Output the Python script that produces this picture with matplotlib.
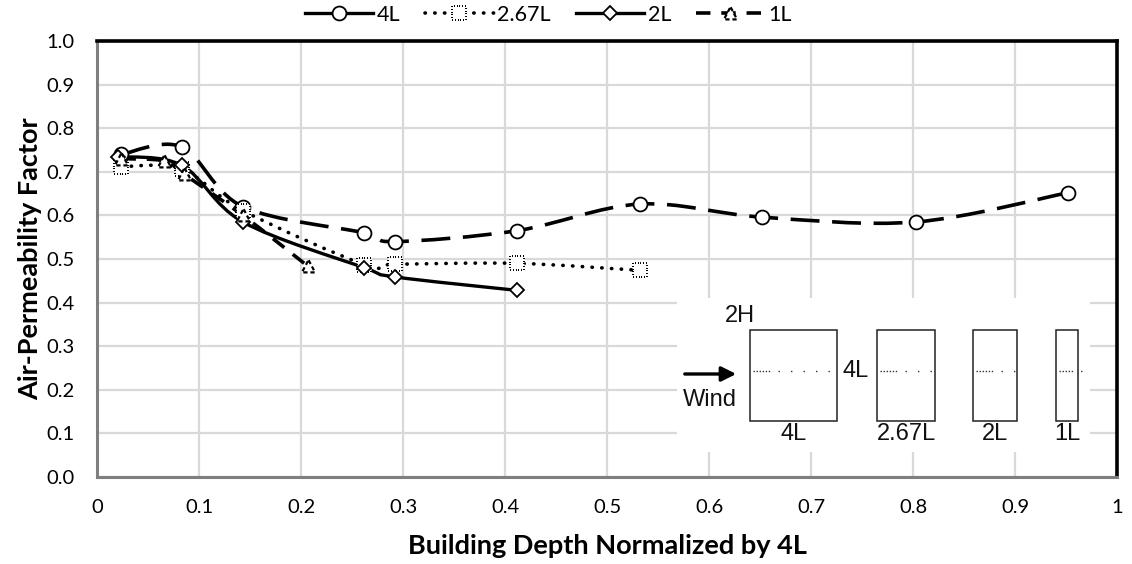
import numpy as np
import matplotlib
matplotlib.use("Agg")
import matplotlib.pyplot as plt
from matplotlib.path import Path
from matplotlib.patches import PathPatch, Rectangle
from matplotlib.markers import MarkerStyle
from matplotlib.lines import Line2D

plt.rcParams['font.family'] = ['Lato', 'DejaVu Sans']

# values
x_4L = [0.024, 0.083, 0.143, 0.262, 0.292, 0.412, 0.532, 0.652, 0.803, 0.952]
y_4L = [0.740, 0.757, 0.620, 0.560, 0.540, 0.565, 0.626, 0.596, 0.585, 0.652]
x_267L = [0.024, 0.083, 0.143, 0.262, 0.292, 0.412, 0.532]
y_267L = [0.712, 0.706, 0.611, 0.487, 0.488, 0.490, 0.474]
x_2L = [0.021, 0.083, 0.143, 0.262, 0.292, 0.412]
y_2L = [0.735, 0.715, 0.585, 0.480, 0.459, 0.428]
x_1L = [0.024, 0.066, 0.085, 0.143, 0.207]
y_1L = [0.730, 0.725, 0.695, 0.600, 0.483]

series_names = ['4L', '2.67L', '2L', '1L']
depths = [4, 2.67, 2, 1]
x_ticks = [0, 0.1, 0.2, 0.3, 0.4, 0.5, 0.6, 0.7, 0.8, 0.9, 1.0]
x_tick_labels = ['0', '0.1', '0.2', '0.3', '0.4', '0.5', '0.6', '0.7', '0.8', '0.9', '1']
y_ticks = [0, 0.1, 0.2, 0.3, 0.4, 0.5, 0.6, 0.7, 0.8, 0.9, 1.0]
y_tick_labels = ['0.0', '0.1', '0.2', '0.3', '0.4', '0.5', '0.6', '0.7', '0.8', '0.9', '1.0']


def smooth_path(x, y):
    # excel-style smoothed line as cubic bezier segments
    p = np.column_stack([x, y]).astype(float)
    n = len(p)
    verts = [p[0]]
    codes = [Path.MOVETO]
    for i in range(n - 1):
        p0 = p[i - 1] if i > 0 else p[i]
        p3 = p[i + 2] if i + 2 < n else p[i + 1]
        verts += [p[i] + (p[i + 1] - p0) / 6, p[i + 1] - (p3 - p[i]) / 6, p[i + 1]]
        codes += [Path.CURVE4] * 3
    return Path(verts, codes)


def broken_outline(corners, on, off, start=0.0):
    # polygon outline cut into dashes, used as a marker shape
    pts = np.array(corners + corners[:1], dtype=float)
    seglens = np.hypot(*np.diff(pts, axis=0).T)
    cum = np.concatenate([[0], np.cumsum(seglens)])
    total = cum[-1]

    def at(s):
        k = min(np.searchsorted(cum, s, side='right') - 1, len(seglens) - 1)
        t = (s - cum[k]) / seglens[k]
        return pts[k] + t * (pts[k + 1] - pts[k])

    verts, codes = [], []
    s = start
    while s < total:
        e = min(s + on, total)
        verts.append(at(s))
        codes.append(Path.MOVETO)
        for c in cum:
            if s < c < e:
                verts.append(at(c))
                codes.append(Path.LINETO)
        verts.append(at(e))
        codes.append(Path.LINETO)
        s += on + off
    return Path(verts, codes)


dot_square = MarkerStyle(broken_outline([(-0.5, -0.5), (0.5, -0.5), (0.5, 0.5), (-0.5, 0.5)], 0.07, 0.13))
dash_tri = MarkerStyle(broken_outline([(0, 0.5), (-0.5, -0.45), (0.5, -0.45)], 0.32, 0.22, 0.1))

fig = plt.figure(figsize=(11.32, 5.64), dpi=100)
ax = fig.add_axes([97 / 1132, 87 / 564, 1020 / 1132, 436 / 564])

# lines
ax.add_patch(PathPatch(smooth_path(x_4L, y_4L), fill=False, lw=2.6, color='black',
                       linestyle=(0, (8, 3.5)), capstyle='butt', zorder=3))
p = PathPatch(smooth_path(x_267L, y_267L), fill=False, lw=2.6, color='black',
              linestyle=(0, (0.1, 2.6)), zorder=3)
p.set_capstyle('round')
ax.add_patch(p)
ax.add_patch(PathPatch(smooth_path(x_2L, y_2L), fill=False, lw=2.4, color='black', zorder=3))
ax.add_patch(PathPatch(smooth_path(x_1L, y_1L), fill=False, lw=2.6, color='black',
                       linestyle=(0, (4, 3)), capstyle='butt', zorder=3))

# markers
ax.plot(x_4L, y_4L, ls='none', marker='o', ms=10, mfc='white', mec='black', mew=1.3, zorder=4)
ax.plot(x_267L, y_267L, ls='none', marker='s', ms=9.5, mfc='white', mec='none', zorder=4)
ax.plot(x_267L, y_267L, ls='none', marker=dot_square, ms=9.5, mfc='none', mec='black', mew=1.4, zorder=4)
ax.plot(x_2L, y_2L, ls='none', marker='D', ms=6.8, mfc='white', mec='black', mew=1.3, zorder=5)
ax.plot(x_1L, y_1L, ls='none', marker='^', ms=8.5, mfc='white', mec='none', zorder=5)
ax.plot(x_1L, y_1L, ls='none', marker=dash_tri, ms=9, mfc='none', mec='black', mew=1.6, zorder=5)

ax.set_xlim(0, 1)
ax.set_ylim(0, 1)
ax.set_xticks(x_ticks)
ax.set_xticklabels(x_tick_labels)
ax.set_yticks(y_ticks)
ax.set_yticklabels(y_tick_labels)
ax.tick_params(length=0, pad=16, labelsize=14.5)
ax.grid(True, color='#d9d9d9', lw=1.6)
ax.set_axisbelow(True)
for side in ['top', 'right']:
    ax.spines[side].set_color('black')
    ax.spines[side].set_linewidth(2.6)
for side in ['left', 'bottom']:
    ax.spines[side].set_color('#7f7f7f')
    ax.spines[side].set_linewidth(2.2)
ax.set_xlabel('Building Depth Normalized by 4L', fontsize=19.5, fontweight='bold', labelpad=13)
ax.set_ylabel('Air-Permeability Factor', fontsize=19.5, fontweight='bold', labelpad=3)

# legend
h_4L = Line2D([], [], color='black', lw=2.4, marker='o', ms=10, mfc='white', mec='black', mew=1.3)
h_267L = (Line2D([], [], color='black', lw=2.6, ls=(0, (0.1, 2.6)), dash_capstyle='round',
                 marker='s', ms=9.5, mfc='white', mec='none'),
          Line2D([], [], ls='none', marker=dot_square, ms=9.5, mfc='none', mec='black', mew=1.4))
h_2L = Line2D([], [], color='black', lw=2.4, marker='D', ms=6.8, mfc='white', mec='black', mew=1.3)
h_1L = (Line2D([], [], color='black', lw=2.6, ls=(0, (4, 3)), marker='^', ms=8.5, mfc='white', mec='none'),
        Line2D([], [], ls='none', marker=dash_tri, ms=9, mfc='none', mec='black', mew=1.6))
fig.legend([h_4L, h_267L, h_2L, h_1L], series_names, loc='center',
           bbox_to_anchor=(548 / 1132, 1 - 15 / 564), ncol=4, frameon=False,
           fontsize=15.5, handlelength=3.2, handletextpad=0.15, columnspacing=1.15)

# inset sketch of the building cases
ins = fig.add_axes([677 / 1132, (564 - 452) / 564, 413 / 1132, 154 / 564])
ins.set_xlim(677, 1090)
ins.set_ylim(452, 298)
ins.set_facecolor('white')
ins.set_xticks([])
ins.set_yticks([])
for s in ins.spines.values():
    s.set_visible(False)

px_per_L = 21.75
lefts = [750, 877, 973, 1056]
tfont = dict(family=['Liberation Sans', 'DejaVu Sans'], fontsize=17, color='#111111')
for left, d, name in zip(lefts, depths, series_names):
    w = d * px_per_L
    ins.add_patch(Rectangle((left, 330), w, 91, fill=False, ec='#222222', lw=1.1))
    ins.text(left + w / 2, 434, name, ha='center', va='center', **tfont)
    dense_end = min(left + 20, left + w - 4)
    ins.plot([left + 3, dense_end], [371, 371], color='#333333', lw=1.0, ls=(0, (1, 1.2)))
    ins.plot([dense_end + 8, left + w - 2], [371, 371], color='#333333', lw=1.0, ls=(0, (1, 8)))
ins.text(740, 316, '2H', ha='center', va='center', **tfont)
ins.text(856, 371, '4L', ha='center', va='center', **tfont)
ins.text(710, 400, 'Wind', ha='center', va='center', **tfont)
ins.annotate('', xy=(739, 374), xytext=(682, 374),
             arrowprops=dict(arrowstyle='-|>', lw=2.4, color='black', mutation_scale=22))

plt.savefig('out.png', dpi=100)
